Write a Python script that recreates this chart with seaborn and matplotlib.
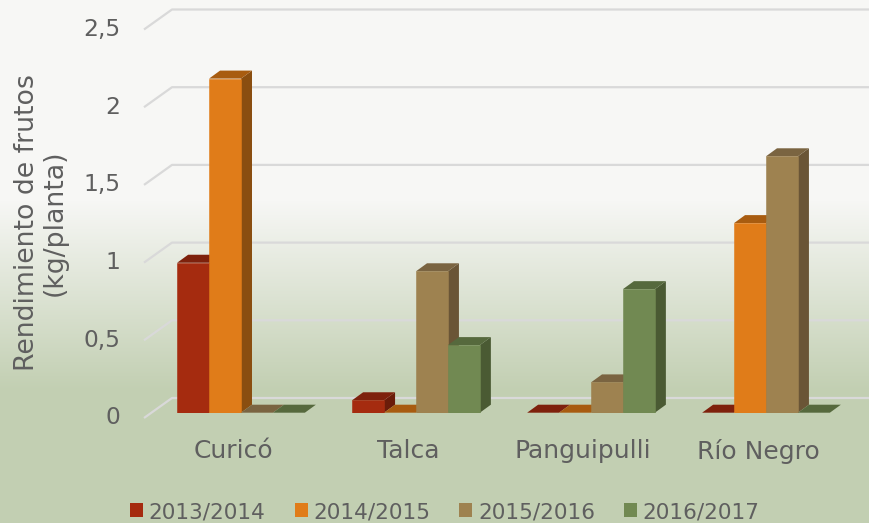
import numpy as np
import pandas as pd
import matplotlib
matplotlib.use("Agg")
import matplotlib.pyplot as plt
import seaborn as sns
from matplotlib.patches import Polygon, Patch
from matplotlib.transforms import ScaledTranslation

# data
sites = ["Curicó", "Talca", "Panguipulli", "Río Negro"]
seasons = ["2013/2014", "2014/2015", "2015/2016", "2016/2017"]
y_2013 = [0.965, 0.08, 0.0, 0.0]
y_2014 = [2.15, 0.0, 0.0, 1.22]
y_2015 = [0.0, 0.91, 0.195, 1.65]
y_2016 = [0.0, 0.435, 0.795, 0.0]
y_ticks = [0, 0.5, 1, 1.5, 2, 2.5]
y_tick_labels = ["0", "0,5", "1", "1,5", "2", "2,5"]

front_cols = ["#A52B0F", "#E07C19", "#9E8250", "#718952"]
top_cols = ["#7E210C", "#A85C10", "#7A6441", "#56693D"]
side_cols = ["#6A1C0A", "#8A4E10", "#6A5536", "#4A5A33"]
txt_col = "#5f5f5f"

df = pd.DataFrame({
    "site": sites * 4,
    "season": np.repeat(seasons, 4),
    "val": y_2013 + y_2014 + y_2015 + y_2016,
})

sns.set_theme(style="white")
plt.rcParams["font.family"] = ["DejaVu Sans"]

W, H = 869, 523
fig = plt.figure(figsize=(W / 100, H / 100), dpi=100)

# background gradient
bg = fig.add_axes([0, 0, 1, 1], zorder=-10)
rows = np.arange(H)
c_top = np.array([247, 247, 245]) / 255
c_bot = np.array([194, 207, 178]) / 255
t = np.clip((rows - 200) / 190.0, 0, 1)
grad = c_top[None, :] * (1 - t[:, None]) + c_bot[None, :] * t[:, None]
bg.imshow(grad[:, None, :], aspect="auto", extent=[0, 1, 0, 1])
bg.axis("off")

# geometry in pixels
base_px = 412.7      # front y of zero
unit_px = 155.4      # px per 1 kg
cat_px = 175.0       # px per category
first_px = 241.0     # centre of first group
left_px = 144.0

ax = fig.add_axes([left_px / W, (H - base_px) / H, (W - left_px) / W, base_px / H])
ax.patch.set_alpha(0)

sns.barplot(data=df, x="site", y="val", hue="season", palette=front_cols,
            width=0.73, ax=ax, legend=False, saturation=1, zorder=3)

x0 = (left_px - first_px) / cat_px
x1 = (W - first_px) / cat_px
ax.set_xlim(x0, x1)
ax.set_ylim(0, base_px / unit_px)

dx = 11 / cat_px
dy = 8 / unit_px
wall_dx = 28 / cat_px
wall_dy = 14.7 / unit_px
front_drop = 5.3 / unit_px

# back wall gridlines with diagonal
for v, lab in zip(y_ticks, y_tick_labels):
    ax.plot([x0, x0 + wall_dx, x1], [v - front_drop, v + wall_dy, v + wall_dy],
            color="#d9d9d9", lw=1.6, zorder=1, clip_on=False, solid_capstyle="butt")
    ax.text(x0, v - front_drop, lab,
            transform=ax.transData + ScaledTranslation(-0.24, 0, fig.dpi_scale_trans),
            ha="right", va="center", fontsize=16.8, color=txt_col)

# 3d faces
bars = []
for k, cont in enumerate(ax.containers):
    for p in cont.patches:
        bars.append((p.get_x(), k, p))
bars.sort(key=lambda b: b[0])
z = 5
for bx, k, p in bars:
    x, w, h = p.get_x(), p.get_width(), p.get_height()
    side = Polygon([(x + w, 0), (x + w + dx, dy), (x + w + dx, h + dy), (x + w, h)],
                   closed=True, facecolor=side_cols[k], edgecolor="none", zorder=z)
    top = Polygon([(x, h), (x + w, h), (x + w + dx, h + dy), (x + dx, h + dy)],
                  closed=True, facecolor=top_cols[k], edgecolor="none", zorder=z + 1)
    ax.add_patch(side)
    ax.add_patch(top)
    p.set_zorder(z + 2)
    p.set_edgecolor(front_cols[k])
    p.set_linewidth(0.4)
    z += 3

ax.set_xlabel("")
ax.set_ylabel("")
ax.set_yticks([])
ax.set_xticks(range(len(sites)))
ax.set_xticklabels(sites, fontsize=18, color=txt_col)
ax.tick_params(axis="x", length=0, pad=19)
for lab in ax.get_xticklabels():
    lab.set_transform(lab.get_transform() + ScaledTranslation(-0.08, 0, fig.dpi_scale_trans))
for s in ax.spines.values():
    s.set_visible(False)

fig.text(41 / W, 1 - 223 / H, "Rendimiento de frutos\n(kg/planta)", rotation=90,
         ha="center", va="center", fontsize=19.3, color=txt_col, linespacing=1.05,
         multialignment="center")

handles = [Patch(facecolor=c, edgecolor="none") for c in front_cols]
fig.legend(handles, seasons, loc="center", bbox_to_anchor=(0.512, 1 - 512 / H),
           ncol=4, frameon=False, fontsize=15.6, labelcolor=txt_col,
           handlelength=0.6, handleheight=0.6, handletextpad=0.25,
           columnspacing=1.35, borderaxespad=0)

fig.savefig("out.png", dpi=100)
